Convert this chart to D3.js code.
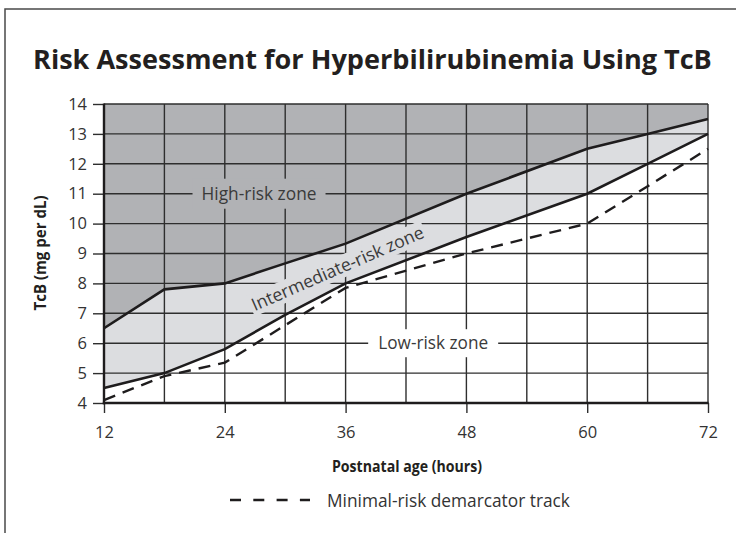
<!DOCTYPE html>
<html><head><meta charset="utf-8">
<script src="https://cdn.jsdelivr.net/npm/d3@7"></script>
<style>body{margin:0;background:#fff}svg{display:block}text{font-family:"Open Sans","Noto Sans",sans-serif}</style>
</head><body><svg id="c" width="736" height="533"></svg>
<script>
const hours = [12, 18, 24, 30, 36, 42, 48, 54, 60, 66, 72];
const xTicks = [12, 24, 36, 48, 60, 72];
const yTicks = [4, 5, 6, 7, 8, 9, 10, 11, 12, 13, 14];
const highRiskHours = [12, 18, 24, 30, 36, 48, 60, 66, 72];
const highRiskValues = [6.5, 7.8, 8.0, 8.67, 9.33, 11.0, 12.5, 13.0, 13.5];
const lowRiskHours = [12, 18, 24, 30, 36, 48, 60, 66, 72];
const lowRiskValues = [4.5, 5.0, 5.8, 6.95, 8.0, 9.55, 11.0, 12.0, 13.0];
const minimalHours = [12, 18, 24, 36, 48, 60, 72];
const minimalValues = [4.1, 4.9, 5.35, 7.85, 9.0, 10.0, 12.5];
const title = "Risk Assessment for Hyperbilirubinemia Using TcB";
const xLabel = "Postnatal age (hours)";
const yLabel = "TcB (mg per dL)";
const legendLabel = "Minimal-risk demarcator track";
const zoneLabels = ["High-risk zone", "Intermediate-risk zone", "Low-risk zone"];

const svg = d3.select("#c");
const x = d3.scaleLinear().domain([12, 72]).range([104, 708]);
const y = d3.scaleLinear().domain([4, 14]).range([403, 104]);

function fit(sel, w) {
  const cur = sel.node().getComputedTextLength();
  if (cur > w) sel.attr("textLength", w).attr("lengthAdjust", "spacingAndGlyphs");
  else sel.style("font-size", (parseFloat(sel.style("font-size")) * w / cur) + "px");
}

// frame
svg.append("path").attr("d", "M5,533V9H736").attr("fill", "none").attr("stroke", "#4a4a4a").attr("stroke-width", 1.5);

// title
const t = svg.append("text").attr("x", 33).attr("y", 69).style("font-weight", 700).style("font-size", "25.5px").attr("fill", "#231f20").text(title);
fit(t, 679);

const hi = highRiskHours.map((h, i) => [h, highRiskValues[i]]);
const lo = lowRiskHours.map((h, i) => [h, lowRiskValues[i]]);
const mn = minimalHours.map((h, i) => [h, minimalValues[i]]);

// zones
svg.append("path").datum(hi).attr("fill", "#b1b2b5")
  .attr("d", d3.area().x(d => x(d[0])).y0(y(14)).y1(d => y(d[1])));
svg.append("path").datum(hi.map((d, i) => [d[0], d[1], lo[i][1]])).attr("fill", "#dcdde0")
  .attr("d", d3.area().x(d => x(d[0])).y0(d => y(d[2])).y1(d => y(d[1])));

// grid
const g = svg.append("g").attr("stroke", "#2e2e2e").attr("stroke-width", 1.4);
hours.slice(1).forEach(h => g.append("line").attr("x1", x(h)).attr("x2", x(h)).attr("y1", y(4)).attr("y2", y(14)));
yTicks.slice(1).forEach(v => g.append("line").attr("x1", x(12)).attr("x2", x(72)).attr("y1", y(v)).attr("y2", y(v)));

// zone labels with masks
function zoneLabel(txt, cx, cy, bg, rot, padX, h, w) {
  const grp = svg.append("g").attr("transform", `translate(${cx},${cy}) rotate(${rot})`);
  const r = grp.append("rect").attr("fill", bg);
  const tx = grp.append("text").attr("text-anchor", "middle").attr("dy", "0.35em").style("font-size", "17px").attr("fill", "#3a3a3a").text(txt);
  fit(tx, w);
  r.attr("x", -w / 2 - padX).attr("width", w + 2 * padX).attr("y", -h / 2).attr("height", h);
}
zoneLabel(zoneLabels[0], x(27.4), y(11), "#b1b2b5", 0, 9, 30, 115);
zoneLabel(zoneLabels[1], x(35.2), y(8.5), "#dcdde0", -23.5, 2, 22, 186);
zoneLabel(zoneLabels[2], x(44.7), y(6), "#ffffff", 0, 10, 28, 110);

// lines
const line = d3.line().x(d => x(d[0])).y(d => y(d[1]));
svg.append("path").datum(hi).attr("d", line).attr("fill", "none").attr("stroke", "#1e1c1d").attr("stroke-width", 2.6);
svg.append("path").datum(lo).attr("d", line).attr("fill", "none").attr("stroke", "#1e1c1d").attr("stroke-width", 2.6);
svg.append("path").datum(mn).attr("d", line).attr("fill", "none").attr("stroke", "#1e1c1d").attr("stroke-width", 2.4).attr("stroke-dasharray", "12,8");

// axes
const ya = svg.append("g").attr("transform", `translate(${x(12)},0)`)
  .call(d3.axisLeft(y).tickValues(yTicks).tickSize(11).tickPadding(6).tickFormat(d3.format("d")));
const xa = svg.append("g").attr("transform", `translate(0,${y(4)})`)
  .call(d3.axisBottom(x).tickValues(xTicks).tickSize(10).tickPadding(13).tickFormat(d3.format("d")));
[ya, xa].forEach(a => {
  a.select(".domain").remove();
  a.selectAll(".tick line").attr("stroke", "#2e2e2e").attr("stroke-width", 1.4);
  a.selectAll(".tick text").attr("fill", "#333").style("font-size", "16.5px").style("font-family", "'Open Sans',sans-serif");
});
svg.append("line").attr("x1", x(12)).attr("x2", x(12)).attr("y1", y(14) - 0.5).attr("y2", y(4) + 1.2).attr("stroke", "#1e1c1d").attr("stroke-width", 2.4);
svg.append("line").attr("x1", x(12) - 1.2).attr("x2", x(72) + 0.6).attr("y1", y(4)).attr("y2", y(4)).attr("stroke", "#1e1c1d").attr("stroke-width", 2.4);

// axis titles
const xl = svg.append("text").attr("x", 407).attr("y", 472).attr("text-anchor", "middle").style("font-weight", 700).style("font-size", "15.5px").attr("fill", "#231f20").text(xLabel);
fit(xl, 150);
const yl = svg.append("text").attr("transform", "translate(46,253) rotate(-90)").attr("text-anchor", "middle").style("font-weight", 700).style("font-size", "15.5px").attr("fill", "#231f20").text(yLabel);
fit(yl, 115);

// legend
svg.append("line").attr("x1", 230).attr("x2", 310).attr("y1", 500).attr("y2", 500).attr("stroke", "#1e1c1d").attr("stroke-width", 2.6).attr("stroke-dasharray", "11,12.3");
const lt = svg.append("text").attr("x", 327).attr("y", 507).style("font-size", "17px").attr("fill", "#333").text(legendLabel);
fit(lt, 243);
</script></body></html>
